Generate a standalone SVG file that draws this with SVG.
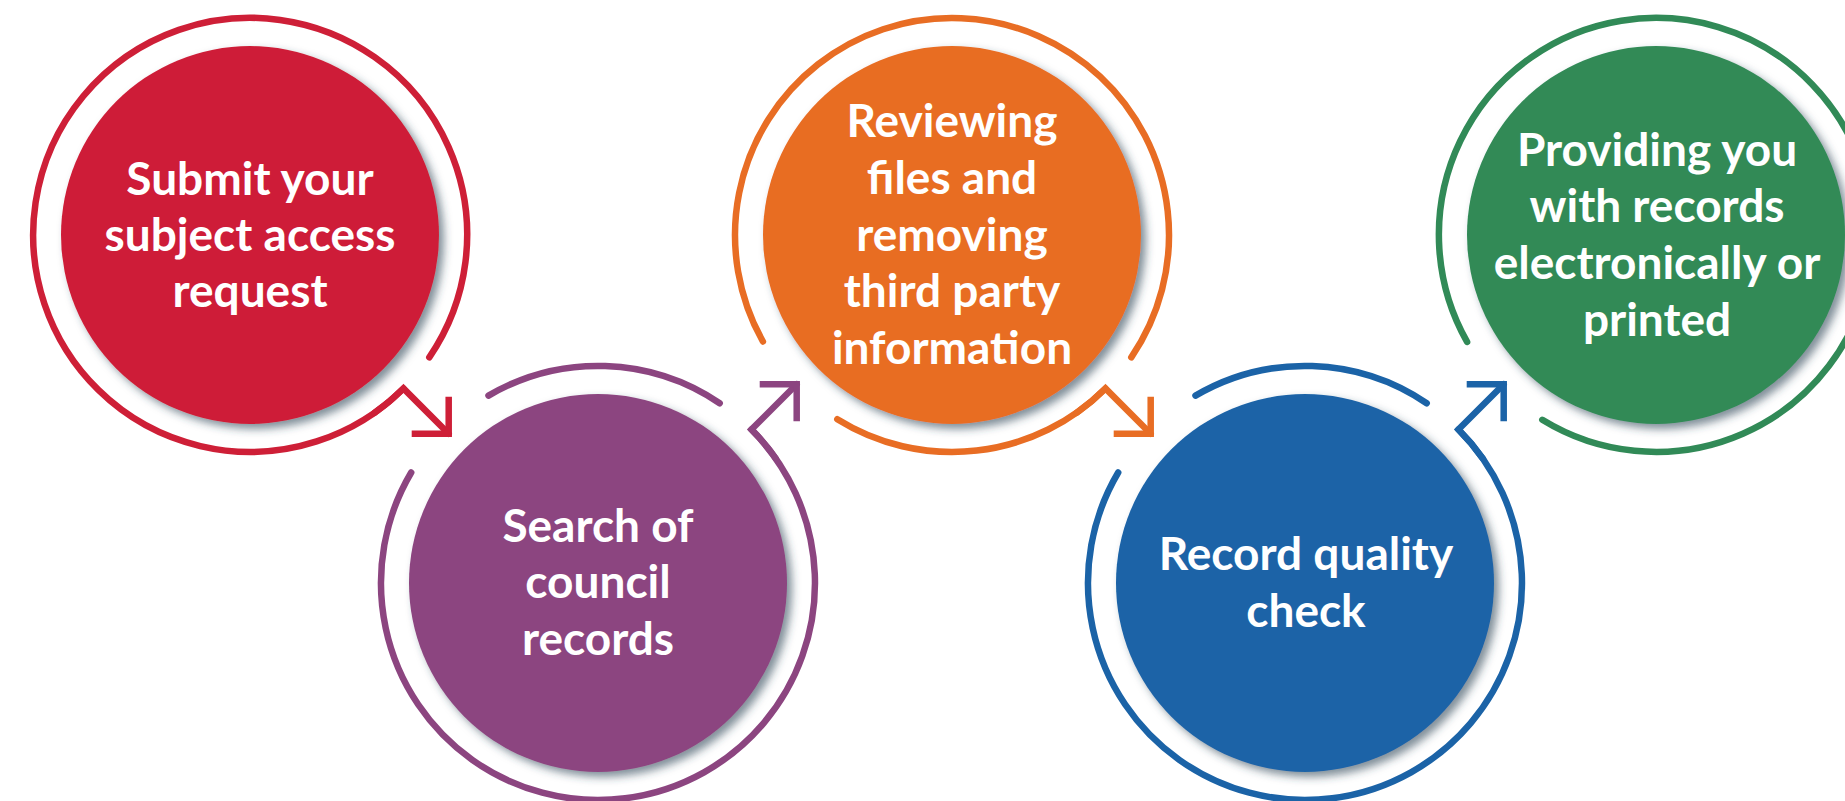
<svg xmlns="http://www.w3.org/2000/svg" width="1845" height="801" viewBox="0 0 1845 801">
<defs>
<style>
.ring{fill:none;stroke-width:6.5;stroke-linecap:round;stroke-linejoin:miter}
.head{fill:none;stroke-width:6.5;stroke-linecap:butt;stroke-linejoin:miter;stroke-miterlimit:10}
.fillc{filter:url(#sh)}
.lbl{font-family:Lato,"Liberation Sans",sans-serif;font-weight:700;font-size:46px;fill:#fff;text-anchor:middle}
.red{stroke:#CE1F37}.pur{stroke:#8C4580}.ora{stroke:#E86D24}.blu{stroke:#1B63A7}.gre{stroke:#318A57}
</style>
<filter id="sh" x="-10%" y="-10%" width="125%" height="125%">
<feDropShadow dx="5" dy="5" stdDeviation="4" flood-color="#2c4454" flood-opacity="0.6"/>
</filter>
</defs>
<rect width="1845" height="801" fill="#fff"/>

<g id="node1">
<path class="ring red" d="M403.44 388.44 A217 217 0 1 1 429.3 357.3"/>
<circle class="fillc" cx="250" cy="235" r="189" fill="#CE1F37"/>
<text class="lbl" x="250" y="195">Submit your</text>
<text class="lbl" x="250" y="251">subject access</text>
<text class="lbl" x="250" y="307">request</text>
</g>

<g id="node2">
<path class="ring pur" d="M751.44 429.56 A217 217 0 1 1 411.2 472.5"/>
<path class="ring pur" d="M488.5 395.6 A217 217 0 0 1 719.7 403.3"/>
<circle class="fillc" cx="598" cy="583" r="189" fill="#8C4580"/>
<text class="lbl" x="598" y="542">Search of</text>
<text class="lbl" x="598" y="598">council</text>
<text class="lbl" x="598" y="655">records</text>
</g>

<g id="node3">
<path class="ring ora" d="M762.9 341.5 A217 217 0 1 1 1131.3 357.3"/>
<path class="ring ora" d="M1105.44 388.44 A217 217 0 0 1 837.3 419.2"/>
<circle class="fillc" cx="952" cy="235" r="189" fill="#E86D24"/>
<text class="lbl" x="952" y="137">Reviewing</text>
<text class="lbl" x="952" y="194">files and</text>
<text class="lbl" x="952" y="251">removing</text>
<text class="lbl" x="952" y="307">third party</text>
<text class="lbl" x="952" y="364">information</text>
</g>

<g id="node4">
<path class="ring blu" d="M1458.44 429.56 A217 217 0 1 1 1118.2 472.5"/>
<path class="ring blu" d="M1195.5 395.6 A217 217 0 0 1 1426.7 403.3"/>
<circle class="fillc" cx="1305" cy="583" r="189" fill="#1B63A7"/>
<text class="lbl" x="1306" y="570">Record quality</text>
<text class="lbl" x="1306" y="627">check</text>
</g>

<g id="node5">
<path class="ring gre" d="M1467.1 341.9 A217 217 0 1 1 1542.3 419.8"/>
<circle class="fillc" cx="1656" cy="235" r="189" fill="#318A57"/>
<text class="lbl" x="1657" y="166">Providing you</text>
<text class="lbl" x="1657" y="222">with records</text>
<text class="lbl" x="1657" y="279">electronically or</text>
<text class="lbl" x="1657" y="336">printed</text>
</g>

<g id="connectors">
<path class="ring red" d="M448.7 433.7 L403.44 388.44 A217 217 0 0 1 374.5 412.8"/>
<path class="head red" d="M411.7 433.7 L448.7 433.7 L448.7 396.7"/>
<path class="ring pur" d="M796.7 384.3 L751.44 429.56 A217 217 0 0 1 775.8 458.5"/>
<path class="head pur" d="M759.7 384.3 L796.7 384.3 L796.7 421.3"/>
<path class="ring ora" d="M1150.7 433.7 L1105.44 388.44 A217 217 0 0 1 1076.5 412.8"/>
<path class="head ora" d="M1113.7 433.7 L1150.7 433.7 L1150.7 396.7"/>
<path class="ring blu" d="M1503.7 384.3 L1458.44 429.56 A217 217 0 0 1 1482.8 458.5"/>
<path class="head blu" d="M1466.7 384.3 L1503.7 384.3 L1503.7 421.3"/>
</g>
</svg>
